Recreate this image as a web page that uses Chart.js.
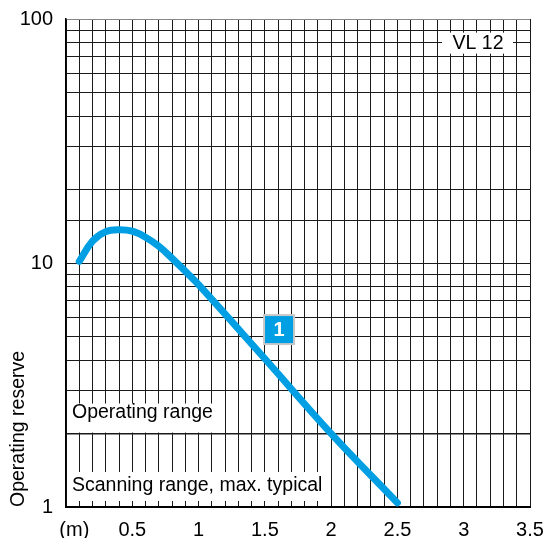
<!DOCTYPE html>
<html>
<head>
<meta charset="utf-8">
<script src="https://cdn.jsdelivr.net/npm/chart.js@4.4.1/dist/chart.umd.min.js"></script>
<style>
  html, body { margin: 0; padding: 0; background: #fff; }
  #wrap { width: 549px; height: 538px; position: relative; }
</style>
</head>
<body>
<div id="wrap"><canvas id="reserveChart"></canvas></div>
<script>
// distance (m) and operating reserve
const distances = [0.1, 0.2, 0.3, 0.4, 0.5, 0.6, 0.7, 0.8, 0.9, 1.0, 1.5, 2.0, 2.5];
const reserve = [10.15, 12.3, 13.45, 13.7, 13.5, 12.75, 11.7, 10.45, 9.25, 8.15, 4.05, 2.0, 1.04];
const yLabels = [1, 10, 100];
const xLabelStep = 0.5;

const FONT = "'Liberation Sans', Arial, sans-serif";
const BLUE = "#009fe3";
const GRID = "#1a1a1a";

// keep tick labels from pushing the plot area in
function noOverflow(scale) {
    scale.paddingTop = 0;
    scale.paddingBottom = 0;
    scale.paddingLeft = 0;
    scale.paddingRight = 0;
}

const notes = {
    id: "notes",
    beforeDatasetsDraw(chart) {
        const c = chart.ctx;
        const y = chart.scales.y;
        const area = chart.chartArea;
        c.save();
        c.font = "19.5px " + FONT;
        c.textBaseline = "alphabetic";
        c.textAlign = "left";

        // operating range box, sits on the 2 line
        const y2 = y.getPixelForValue(2);
        c.fillStyle = "#fff";
        c.fillRect(area.left + 1, y2 - 30, 152, 29);
        c.fillStyle = "#000";
        c.fillText("Operating range", area.left + 6, y2 - 16);

        // scanning range box at the bottom
        c.fillStyle = "#fff";
        c.fillRect(area.left + 1, area.bottom - 35, 264, 29);
        c.fillStyle = "#000";
        c.fillText("Scanning range, max. typical", area.left + 6, area.bottom - 16);

        // VL 12 tag
        const y80 = y.getPixelForValue(80);
        c.fillStyle = "#fff";
        c.fillRect(442, y80 - 10, 71, 21);
        c.fillStyle = "#000";
        c.textAlign = "center";
        c.textBaseline = "middle";
        c.fillText("VL 12", 478, y80 + 1);

        // axis title
        c.save();
        c.translate(24, area.bottom);
        c.rotate(-Math.PI / 2);
        c.textAlign = "left";
        c.textBaseline = "alphabetic";
        c.fillText("Operating reserve", 0, 0);
        c.restore();
        c.restore();
    },
    afterDatasetsDraw(chart) {
        const c = chart.ctx;
        const px = chart.scales.x.getPixelForValue(1.607);
        const py = chart.scales.y.getPixelForValue(5.36);
        c.save();
        c.fillStyle = "#c8c8c8";
        c.fillRect(px - 16, py - 15, 32, 31);
        c.fillStyle = BLUE;
        c.fillRect(px - 14, py - 13, 28, 27);
        c.fillStyle = "#fff";
        c.font = "bold 20px " + FONT;
        c.textAlign = "center";
        c.textBaseline = "middle";
        c.fillText("1", px, py + 1);
        c.restore();
    }
};

new Chart(document.getElementById("reserveChart"), {
    type: "line",
    data: {
        datasets: [{
            data: distances.map((d, i) => ({ x: d, y: reserve[i] })),
            borderColor: BLUE,
            borderWidth: 7,
            borderCapStyle: "round",
            borderJoinStyle: "round",
            tension: 0.4,
            pointRadius: 0,
            fill: false,
            clip: 10
        }]
    },
    options: {
        responsive: true,
        maintainAspectRatio: false,
        animation: false,
        layout: { padding: { top: 19, right: 19, left: 0, bottom: 0 } },
        plugins: {
            legend: { display: false },
            tooltip: { enabled: false }
        },
        scales: {
            x: {
                type: "linear",
                min: 0,
                max: 3.5,
                afterFit(scale) { scale.height = 31; noOverflow(scale); },
                ticks: {
                    stepSize: 0.1,
                    autoSkip: false,
                    maxRotation: 0,
                    padding: 11,
                    color: "#000",
                    font: { family: FONT, size: 20 },
                    callback(value) {
                        const v = Math.round(value * 10);
                        if (v === 0) return "   (m)";
                        if (v % Math.round(xLabelStep * 10) === 0) return String(v / 10);
                        return "";
                    }
                },
                grid: { color: GRID, lineWidth: 1, drawTicks: false },
                border: { color: "#000", width: 2 }
            },
            y: {
                type: "logarithmic",
                min: 1,
                max: 100,
                afterFit(scale) { scale.width = 66; noOverflow(scale); },
                ticks: {
                    autoSkip: false,
                    padding: 13,
                    color: "#000",
                    font: { family: FONT, size: 20 },
                    callback(value) {
                        return yLabels.includes(value) ? String(value) : "";
                    }
                },
                grid: {
                    drawTicks: false,
                    color: (ctx) => ctx.tick && ctx.tick.value === 100 ? "#888" : GRID,
                    lineWidth: (ctx) => ctx.tick && ctx.tick.value === 2 ? 1.6 : 1
                },
                border: { color: "#000", width: 1.5 }
            }
        }
    },
    plugins: [notes]
});
</script>
</body>
</html>
